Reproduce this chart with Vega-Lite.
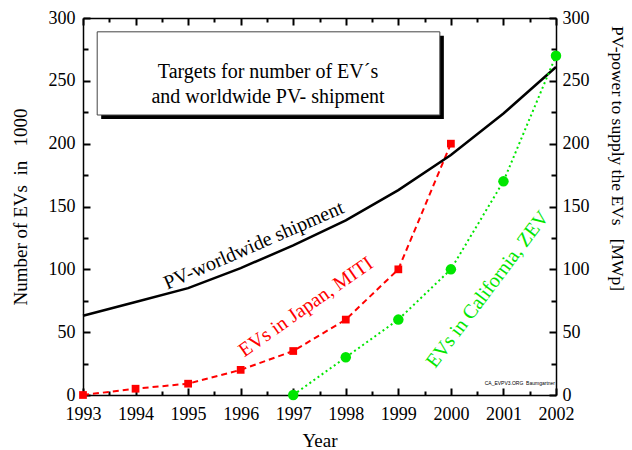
{
  "$schema": "https://vega.github.io/schema/vega-lite/v6.json",
  "width": 473,
  "height": 377,
  "autosize": "none",
  "padding": {"left": 83, "top": 18, "right": 76, "bottom": 55},
  "background": "white",
  "config": {
    "view": {"stroke": null},
    "font": "Liberation Serif",
    "axis": {
      "labelFont": "Liberation Serif",
      "titleFont": "Liberation Serif",
      "labelFontSize": 18,
      "titleFontSize": 19,
      "titleFontWeight": "normal",
      "labelColor": "black",
      "titleColor": "black",
      "domainColor": "black",
      "tickColor": "black",
      "domainWidth": 1.5,
      "tickWidth": 1.5,
      "grid": false,
      "labelOverlap": false,
      "labelFlush": false
    }
  },
  "datasets": {
    "pv": [
      {"year": 1993, "value": 63},
      {"year": 1994, "value": 74},
      {"year": 1995, "value": 85},
      {"year": 1996, "value": 101},
      {"year": 1997, "value": 119},
      {"year": 1998, "value": 139},
      {"year": 1999, "value": 163},
      {"year": 2000, "value": 191},
      {"year": 2001, "value": 224},
      {"year": 2002, "value": 261}
    ],
    "japan": [
      {"year": 1993, "value": 0},
      {"year": 1994, "value": 5},
      {"year": 1995, "value": 9},
      {"year": 1996, "value": 20},
      {"year": 1997, "value": 35},
      {"year": 1998, "value": 60},
      {"year": 1999, "value": 100},
      {"year": 2000, "value": 200}
    ],
    "california": [
      {"year": 1997, "value": 0},
      {"year": 1998, "value": 30},
      {"year": 1999, "value": 60},
      {"year": 2000, "value": 100},
      {"year": 2001, "value": 170},
      {"year": 2002, "value": 270}
    ]
  },
  "resolve": {"scale": {"x": "independent", "y": "independent"}, "axis": {"x": "independent", "y": "independent"}},
  "layer": [
    {
      "data": {"name": "japan"},
      "mark": {"type": "line", "color": "#ff0000", "strokeWidth": 2, "strokeDash": [6, 4]},
      "encoding": {
        "x": {
          "field": "year", "type": "quantitative",
          "scale": {"domain": [1993, 2002], "nice": false, "zero": false},
          "axis": {
            "orient": "bottom",
            "title": "Year",
            "titlePadding": 8,
            "values": [1993, 1994, 1995, 1996, 1997, 1998, 1999, 2000, 2001, 2002],
            "format": "d",
            "ticks": false,
            "labelPadding": 10
          }
        },
        "y": {
          "field": "value", "type": "quantitative",
          "scale": {"domain": [0, 300], "nice": false},
          "axis": {
            "orient": "left",
            "title": "Number of EVs\u00a0 in\u00a0\u00a0 1000",
            "titlePadding": 18,
            "values": [0, 50, 100, 150, 200, 250, 300],
            "format": "d",
            "ticks": false,
            "labelPadding": 8
          }
        }
      }
    },
    {
      "data": {"name": "japan"},
      "mark": {"type": "point", "shape": "square", "filled": true, "color": "#ff0000", "opacity": 1, "size": 60},
      "encoding": {
        "x": {
          "field": "year", "type": "quantitative",
          "scale": {"domain": [1993, 2002], "nice": false, "zero": false},
          "axis": {
            "orient": "bottom", "title": null, "labels": false, "domain": false, "ticks": true,
            "values": [1993, 1994, 1995, 1996, 1997, 1998, 1999, 2000, 2001, 2002],
            "offset": -7, "tickSize": 7, "tickColor": "black", "tickWidth": 2
          }
        },
        "y": {
          "field": "value", "type": "quantitative",
          "scale": {"domain": [0, 300], "nice": false},
          "axis": {
            "orient": "left", "title": null, "labels": false, "domain": false, "ticks": true,
            "values": [0, 50, 100, 150, 200, 250, 300],
            "offset": -7, "tickSize": 7, "tickColor": "black", "tickWidth": 2
          }
        }
      }
    },
    {
      "data": {"name": "pv"},
      "mark": {"type": "line", "color": "black", "strokeWidth": 2.5},
      "encoding": {
        "x": {
          "field": "year", "type": "quantitative",
          "scale": {"domain": [1993, 2002], "nice": false, "zero": false},
          "axis": {
            "orient": "top",
            "title": null,
            "labels": false,
            "ticks": false
          }
        },
        "y": {
          "field": "value", "type": "quantitative",
          "scale": {"domain": [0, 300], "nice": false},
          "axis": {
            "orient": "right",
            "title": "PV-power to supply the EVs\u00a0\u00a0 [MWp]",
            "titleFontSize": 17.5,
            "titleAngle": 90,
            "titleX": 60,
            "titleY": 140,
            "titleAlign": "center",
            "titleBaseline": "middle",
            "values": [0, 50, 100, 150, 200, 250, 300],
            "format": "d",
            "ticks": false,
            "labelPadding": 6
          }
        }
      }
    },
    {
      "data": {"name": "california"},
      "mark": {"type": "line", "color": "#00e600", "strokeWidth": 2, "strokeDash": [2, 3]},
      "encoding": {
        "x": {
          "field": "year", "type": "quantitative",
          "scale": {"domain": [1993, 2002], "nice": false, "zero": false},
          "axis": {
            "orient": "top", "title": null, "labels": false, "domain": false, "ticks": true,
            "values": [1993, 1994, 1995, 1996, 1997, 1998, 1999, 2000, 2001, 2002],
            "offset": -7, "tickSize": 7, "tickColor": "black", "tickWidth": 2
          }
        },
        "y": {
          "field": "value", "type": "quantitative",
          "scale": {"domain": [0, 300], "nice": false},
          "axis": {
            "orient": "right", "title": null, "labels": false, "domain": false, "ticks": true,
            "values": [0, 50, 100, 150, 200, 250, 300],
            "offset": -7, "tickSize": 7, "tickColor": "black", "tickWidth": 2
          }
        }
      }
    },
    {
      "data": {"name": "california"},
      "mark": {"type": "point", "shape": "circle", "filled": true, "color": "#00e600", "opacity": 1, "size": 110},
      "encoding": {
        "x": {
          "field": "year", "type": "quantitative",
          "scale": {"domain": [1993, 2002], "nice": false, "zero": false},
          "axis": {
            "orient": "bottom", "title": null, "labels": false, "domain": false, "ticks": true,
            "values": [1993.5, 1994.5, 1995.5, 1996.5, 1997.5, 1998.5, 1999.5, 2000.5, 2001.5],
            "offset": -4, "tickSize": 4, "tickColor": "black", "tickWidth": 2
          }
        },
        "y": {
          "field": "value", "type": "quantitative",
          "scale": {"domain": [0, 300], "nice": false},
          "axis": {
            "orient": "left", "title": null, "labels": false, "domain": false, "ticks": true,
            "values": [25, 75, 125, 175, 225, 275],
            "offset": -5, "tickSize": 5, "tickColor": "black", "tickWidth": 2
          }
        }
      }
    },
    {
      "data": {"values": [{}]},
      "mark": {"type": "rect", "color": "black", "xOffset": 4, "x2Offset": 4, "yOffset": 4, "y2Offset": 4},
      "encoding": {
        "x": {
          "datum": 1993.27, "type": "quantitative",
          "scale": {"domain": [1993, 2002], "nice": false, "zero": false},
          "axis": {
            "orient": "top", "title": null, "labels": false, "domain": false, "ticks": true,
            "values": [1993.5, 1994.5, 1995.5, 1996.5, 1997.5, 1998.5, 1999.5, 2000.5, 2001.5],
            "offset": -4, "tickSize": 4, "tickColor": "black", "tickWidth": 2
          }
        },
        "x2": {"datum": 1999.79},
        "y": {
          "datum": 289, "type": "quantitative",
          "scale": {"domain": [0, 300], "nice": false},
          "axis": {
            "orient": "right", "title": null, "labels": false, "domain": false, "ticks": true,
            "values": [25, 75, 125, 175, 225, 275],
            "offset": -5, "tickSize": 5, "tickColor": "black", "tickWidth": 2
          }
        },
        "y2": {"datum": 222.8}
      }
    },
    {
      "data": {"values": [{}]},
      "mark": {"type": "rect", "fill": "white", "stroke": "#444444", "strokeWidth": 1},
      "encoding": {
        "x": {"datum": 1993.27, "type": "quantitative", "scale": {"domain": [1993, 2002], "nice": false, "zero": false}, "axis": null},
        "x2": {"datum": 1999.79},
        "y": {"datum": 289, "type": "quantitative", "scale": {"domain": [0, 300], "nice": false}, "axis": null},
        "y2": {"datum": 222.8}
      }
    },
    {
      "data": {"values": [{"label": ["Targets for number of EV\u00b4s", "and worldwide PV- shipment"]}]},
      "mark": {"type": "text", "font": "Liberation Serif", "fontSize": 20, "align": "center", "baseline": "middle", "lineHeight": 25, "color": "black"},
      "encoding": {
        "x": {"datum": 1996.52, "type": "quantitative", "scale": {"domain": [1993, 2002], "nice": false, "zero": false}, "axis": null},
        "y": {"datum": 257, "type": "quantitative", "scale": {"domain": [0, 300], "nice": false}, "axis": null},
        "text": {"field": "label"}
      }
    },
    {
      "data": {"values": [
        {"label": "PV-worldwide shipment", "year": 1996.25, "value": 119}
      ]},
      "mark": {"type": "text", "font": "Liberation Serif", "fontSize": 20, "align": "center", "baseline": "middle", "angle": -23.5, "color": "black"},
      "encoding": {
        "x": {"field": "year", "type": "quantitative", "scale": {"domain": [1993, 2002], "nice": false, "zero": false}, "axis": null},
        "y": {"field": "value", "type": "quantitative", "scale": {"domain": [0, 300], "nice": false}, "axis": null},
        "text": {"field": "label"}
      }
    },
    {
      "data": {"values": [
        {"label": "EVs in Japan, MITI", "year": 1997.24, "value": 70}
      ]},
      "mark": {"type": "text", "font": "Liberation Serif", "fontSize": 20, "align": "center", "baseline": "middle", "angle": -35, "color": "#ff0000"},
      "encoding": {
        "x": {"field": "year", "type": "quantitative", "scale": {"domain": [1993, 2002], "nice": false, "zero": false}, "axis": null},
        "y": {"field": "value", "type": "quantitative", "scale": {"domain": [0, 300], "nice": false}, "axis": null},
        "text": {"field": "label"}
      }
    },
    {
      "data": {"values": [
        {"label": "EVs in California, ZEV", "year": 2000.7, "value": 84}
      ]},
      "mark": {"type": "text", "font": "Liberation Serif", "fontSize": 20, "align": "center", "baseline": "middle", "angle": -53, "color": "#00e600"},
      "encoding": {
        "x": {"field": "year", "type": "quantitative", "scale": {"domain": [1993, 2002], "nice": false, "zero": false}, "axis": null},
        "y": {"field": "value", "type": "quantitative", "scale": {"domain": [0, 300], "nice": false}, "axis": null},
        "text": {"field": "label"}
      }
    },
    {
      "data": {"values": [{"label": "CA_EVPV3.ORG\u00a0 Baumgartner"}]},
      "mark": {"type": "text", "font": "Liberation Sans", "fontSize": 5, "align": "right", "baseline": "middle", "dx": -1, "color": "black"},
      "encoding": {
        "x": {"datum": 2002, "type": "quantitative", "scale": {"domain": [1993, 2002], "nice": false, "zero": false}, "axis": null},
        "y": {"datum": 9.5, "type": "quantitative", "scale": {"domain": [0, 300], "nice": false}, "axis": null},
        "text": {"field": "label"}
      }
    }
  ]
}
